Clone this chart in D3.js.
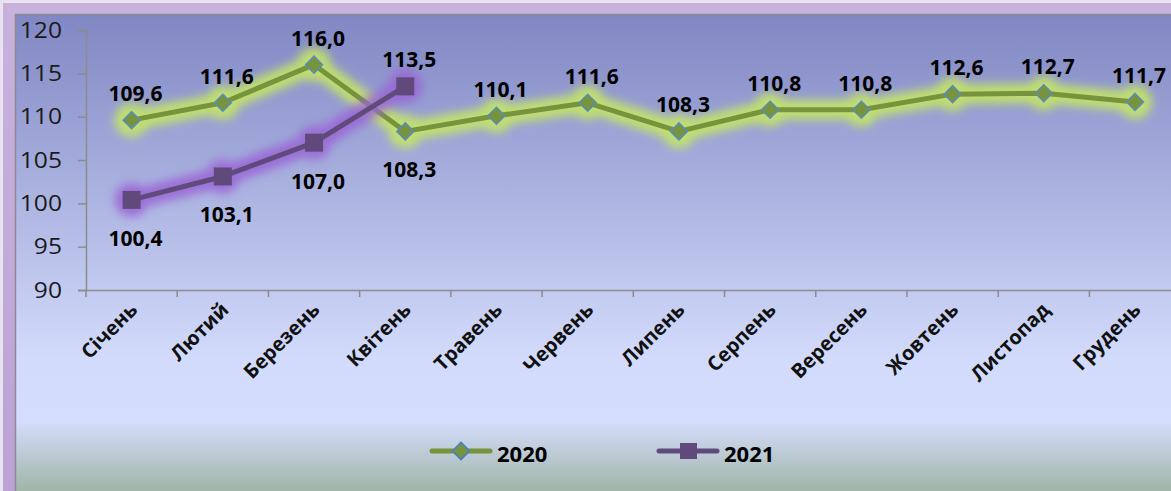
<!DOCTYPE html>
<html>
<head>
<meta charset="utf-8">
<script src="https://cdn.jsdelivr.net/npm/d3@7"></script>
<style>
  body { margin: 0; background: #e9e3ef; }
  text { font-family: "Open Sans", sans-serif; }
</style>
</head>
<body>
<script>
const months = ['Січень', 'Лютий', 'Березень', 'Квітень', 'Травень', 'Червень',
  'Липень', 'Серпень', 'Вересень', 'Жовтень', 'Листопад', 'Грудень'];
const values2020 = [109.6, 111.6, 116.0, 108.3, 110.1, 111.6, 108.3, 110.8, 110.8, 112.6, 112.7, 111.7];
const values2021 = [100.4, 103.1, 107.0, 113.5];
const yTicks = [90, 95, 100, 105, 110, 115, 120];
const seriesNames = ['2020', '2021'];

const svgWidth = 1171;
const svgHeight = 491;

const svg = d3.select('body').append('svg')
  .attr('width', svgWidth)
  .attr('height', svgHeight);

const defs = svg.append('defs');

const bg = defs.append('linearGradient')
  .attr('id', 'bg').attr('x1', 0).attr('y1', 0).attr('x2', 0).attr('y2', 1);
bg.append('stop').attr('offset', '0%').attr('stop-color', '#8087c3');
bg.append('stop').attr('offset', '70%').attr('stop-color', '#d2dbfb');
bg.append('stop').attr('offset', '83%').attr('stop-color', '#d4ddfc');
bg.append('stop').attr('offset', '100%').attr('stop-color', '#96ad96');

const frame = defs.append('linearGradient')
  .attr('id', 'frame').attr('x1', 0).attr('y1', 0).attr('x2', 0).attr('y2', 1);
frame.append('stop').attr('offset', '0%').attr('stop-color', '#c8b2dc');
frame.append('stop').attr('offset', '100%').attr('stop-color', '#bca2d6');

defs.append('filter').attr('id', 'glow')
  .attr('x', '-20%').attr('y', '-60%').attr('width', '140%').attr('height', '220%')
  .append('feGaussianBlur').attr('stdDeviation', 5);

// outer frame
svg.append('rect').attr('x', 3).attr('y', 3).attr('width', svgWidth).attr('height', svgHeight)
  .attr('fill', 'url(#frame)');
svg.append('rect').attr('x', 15).attr('y', 14).attr('width', svgWidth).attr('height', svgHeight)
  .attr('fill', 'url(#bg)');
svg.append('path').attr('d', `M15.5,${svgHeight} V14.5 H${svgWidth}`)
  .attr('fill', 'none').attr('stroke', '#8a8a92').attr('stroke-width', 1.5);

const x = d3.scaleBand()
  .domain(months)
  .range([86, 86 + 12 * 91.22]);

const y = d3.scaleLinear()
  .domain([90, 120])
  .range([290, 30]);

const cx = m => x(m) + x.bandwidth() / 2;

// y axis
const yAxis = svg.append('g')
  .attr('transform', 'translate(86,0)')
  .call(d3.axisLeft(y).tickValues(yTicks).tickSize(8).tickPadding(16));
yAxis.selectAll('text').attr('font-size', 22).attr('fill', '#1a1a1a')
  .attr('font-family', '"Open Sans", sans-serif').attr('transform', 'scale(1.12,1)')
  .attr('x', -24 / 1.12);
yAxis.selectAll('line, path').attr('stroke', '#8c8c8c').attr('stroke-width', 1.5);

// x axis
const xAxis = svg.append('g')
  .attr('transform', 'translate(0,290)')
  .call(d3.axisBottom(x).tickSize(0).tickFormat(''));
xAxis.select('path').attr('stroke', '#8c8c8c').attr('stroke-width', 1.5);
xAxis.selectAll('.band-tick')
  .data(d3.range(13))
  .enter().append('line')
  .attr('x1', i => 86 + i * x.step()).attr('x2', i => 86 + i * x.step())
  .attr('y1', 0).attr('y2', 7)
  .attr('stroke', '#8c8c8c').attr('stroke-width', 1.5);

svg.append('g').selectAll('text')
  .data(months)
  .enter().append('text')
  .attr('transform', d => `translate(${cx(d) + 7},311) rotate(-45)`)
  .attr('text-anchor', 'end')
  .attr('font-size', 20)
  .attr('font-weight', 'bold')
  .attr('fill', '#111')
  .text(d => d);

const line = d3.line()
  .x((d, i) => cx(months[i]))
  .y(d => y(d));

const diamond = s => `M0,${-s} L${s},0 L0,${s} L${-s},0Z`;

function drawSeries(values, color, glowColor, marker) {
  const g = svg.append('g');
  const glow = g.append('g').attr('filter', 'url(#glow)').attr('opacity', 0.85);
  glow.append('path').attr('d', line(values))
    .attr('fill', 'none').attr('stroke', glowColor).attr('stroke-width', 20)
    .attr('stroke-linejoin', 'round').attr('stroke-linecap', 'round');
  glow.selectAll('circle').data(values).enter().append('circle')
    .attr('cx', (d, i) => cx(months[i])).attr('cy', d => y(d))
    .attr('r', 17).attr('fill', glowColor);

  g.append('path').attr('d', line(values))
    .attr('fill', 'none').attr('stroke', color).attr('stroke-width', 5)
    .attr('stroke-linejoin', 'round');

  if (marker === 'diamond') {
    g.selectAll('.m').data(values).enter().append('path')
      .attr('transform', (d, i) => `translate(${cx(months[i])},${y(d)})`)
      .attr('d', diamond(8.5))
      .attr('fill', color).attr('stroke', '#5a8cbc').attr('stroke-width', 1.5);
  } else {
    g.selectAll('.m').data(values).enter().append('rect')
      .attr('x', (d, i) => cx(months[i]) - 9).attr('y', d => y(d) - 9)
      .attr('width', 18).attr('height', 18)
      .attr('fill', color);
  }
}

drawSeries(values2020, '#77933c', '#c8ea5e', 'diamond');
drawSeries(values2021, '#604a7b', '#9a64d6', 'square');

// data labels
const fmt = v => v.toFixed(1).replace('.', ',');
function drawLabels(values, below) {
  svg.append('g').selectAll('text')
    .data(values)
    .enter().append('text')
    .attr('x', (d, i) => cx(months[i]) + 4)
    .attr('y', (d, i) => y(d) + (below(i) ? 46 : -19))
    .attr('text-anchor', 'middle')
    .attr('font-size', 21)
    .attr('font-weight', 'bold')
    .attr('fill', '#000')
    .text(fmt);
}
drawLabels(values2020, i => i === 3);
drawLabels(values2021, i => i < 3);

// legend
const legend = svg.append('g');
const legendX = [432, 659];
seriesNames.forEach((name, i) => {
  const lg = legend.append('g').attr('transform', `translate(${legendX[i]},451)`);
  lg.append('line').attr('x1', 0).attr('x2', 58)
    .attr('stroke', i === 0 ? '#77933c' : '#604a7b').attr('stroke-width', 5)
    .attr('stroke-linecap', 'round');
  if (i === 0) {
    lg.append('path').attr('transform', 'translate(29,0)').attr('d', diamond(8.5))
      .attr('fill', '#77933c').attr('stroke', '#4f81bd').attr('stroke-width', 1.8);
  } else {
    lg.append('rect').attr('x', 21).attr('y', -8).attr('width', 17).attr('height', 16)
      .attr('fill', '#604a7b');
  }
  lg.append('text').attr('x', 65).attr('y', 11)
    .attr('font-size', 22).attr('font-weight', 'bold').attr('fill', '#000')
    .text(name);
});
</script>
</body>
</html>
